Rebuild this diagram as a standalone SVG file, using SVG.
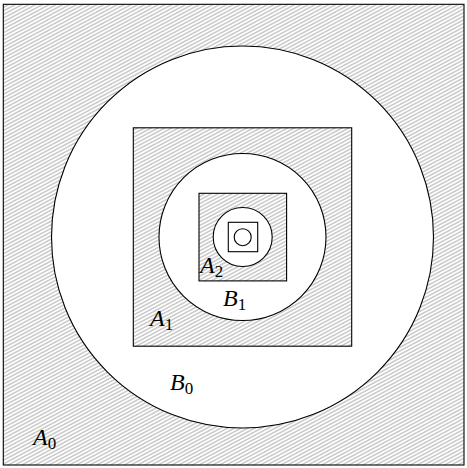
<svg xmlns="http://www.w3.org/2000/svg" width="467" height="468" viewBox="0 0 467 468">
<defs>
<pattern id="hatch" patternUnits="userSpaceOnUse" width="8" height="3.2" patternTransform="rotate(-28)">
<rect width="8" height="3.2" fill="#ffffff"/>
<line x1="0" y1="1.6" x2="8" y2="1.6" stroke="#a4a4a4" stroke-width="0.9"/>
</pattern>
</defs>
<style>
.h{fill:url(#hatch);stroke:#000;stroke-width:1.1}
.w{fill:#fff;stroke:#000;stroke-width:1.1}
.lab{font-family:"Liberation Serif","DejaVu Serif",serif;font-style:italic;font-size:24px;fill:#000}
.sub{font-family:"Liberation Serif","DejaVu Serif",serif;font-style:normal;font-size:17px;fill:#000}
</style>
<rect width="467" height="468" fill="#fff"/>
<g id="A0"><rect class="h" x="3.3" y="4.3" width="460.7" height="460.7"/></g>
<g id="B0"><circle class="w" cx="242.5" cy="237" r="191"/></g>
<g id="A1"><rect class="h" x="133.3" y="127.8" width="218.4" height="218.4"/></g>
<g id="B1"><circle class="w" cx="242.5" cy="237" r="83.5"/></g>
<g id="A2"><rect class="h" x="199" y="193.3" width="87.6" height="87.6"/></g>
<g id="B2"><circle class="w" cx="242.7" cy="237" r="29.5"/></g>
<g id="A3"><rect class="w" x="228.3" y="222.3" width="29.4" height="29.4"/></g>
<g id="B3"><circle class="w" cx="242.7" cy="237.2" r="8.5"/></g>
<g id="connectors"></g>
<g id="labels">
<text x="33" y="445"><tspan class="lab">A</tspan><tspan class="sub" dy="4">0</tspan></text>
<text x="150" y="326"><tspan class="lab">A</tspan><tspan class="sub" dy="4">1</tspan></text>
<text x="200" y="272.7"><tspan class="lab">A</tspan><tspan class="sub" dy="4">2</tspan></text>
<text x="170" y="390"><tspan class="lab">B</tspan><tspan class="sub" dy="4">0</tspan></text>
<text x="223" y="305.5"><tspan class="lab">B</tspan><tspan class="sub" dy="4">1</tspan></text>
</g>
</svg>
